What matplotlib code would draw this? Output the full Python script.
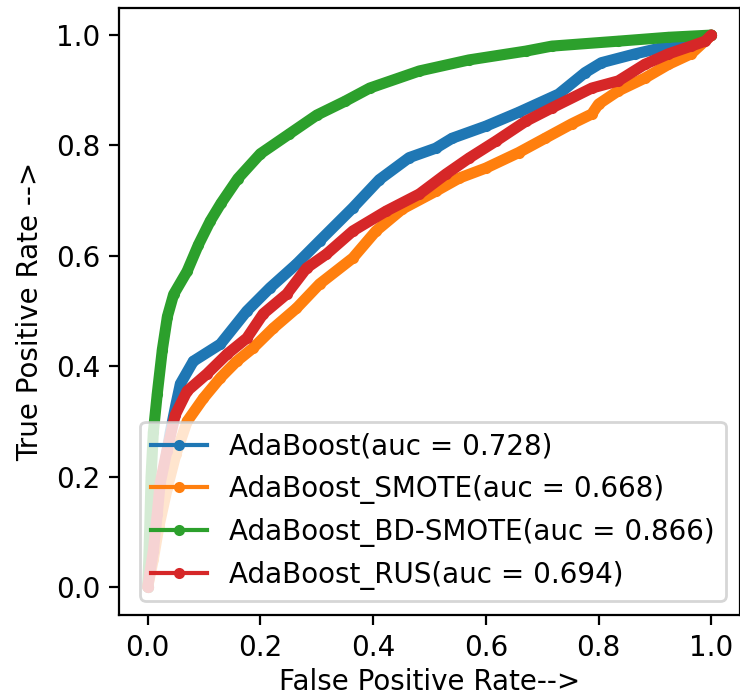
import matplotlib
matplotlib.use('Agg')
import matplotlib.pyplot as plt
from matplotlib.lines import Line2D

# ROC points
labels = ['AdaBoost', 'AdaBoost_SMOTE', 'AdaBoost_BD-SMOTE', 'AdaBoost_RUS']
aucs = [0.728, 0.668, 0.866, 0.694]
colors = ['#1f77b4', '#ff7f0e', '#2ca02c', '#d62728']

fpr_ada = [0.0, 0.01, 0.02, 0.03, 0.04, 0.05, 0.058, 0.081, 0.129, 0.176, 0.217,
           0.264, 0.305, 0.364, 0.411, 0.464, 0.511, 0.54, 0.6, 0.658, 0.729,
           0.776, 0.805, 0.865, 0.924, 1.0]
tpr_ada = [0.0, 0.08, 0.15, 0.22, 0.28, 0.33, 0.368, 0.409, 0.44, 0.5, 0.542,
           0.585, 0.627, 0.687, 0.738, 0.778, 0.795, 0.813, 0.835, 0.86, 0.893,
           0.932, 0.95, 0.966, 0.98, 1.0]

fpr_smote = [0.0, 0.01, 0.02, 0.035, 0.05, 0.07, 0.099, 0.129, 0.158, 0.187,
             0.223, 0.264, 0.305, 0.364, 0.405, 0.452, 0.511, 0.553, 0.6, 0.658,
             0.705, 0.752, 0.788, 0.8, 0.835, 0.882, 0.924, 0.964, 1.0]
tpr_smote = [0.0, 0.05, 0.11, 0.18, 0.24, 0.3, 0.342, 0.379, 0.409, 0.433,
             0.469, 0.505, 0.549, 0.596, 0.645, 0.685, 0.717, 0.741, 0.759, 0.787,
             0.813, 0.839, 0.857, 0.875, 0.899, 0.922, 0.947, 0.966, 1.0]

fpr_bd = [0.0, 0.002, 0.004, 0.006, 0.01, 0.017, 0.026, 0.035, 0.046, 0.07,
          0.09, 0.111, 0.13, 0.16, 0.2, 0.25, 0.3, 0.35, 0.394, 0.482, 0.57,
          0.671, 0.717, 0.835, 0.924, 1.0]
tpr_bd = [0.0, 0.05, 0.12, 0.2, 0.28, 0.35, 0.43, 0.49, 0.53, 0.572,
          0.62, 0.663, 0.695, 0.74, 0.785, 0.82, 0.855, 0.88, 0.904, 0.935, 0.955,
          0.971, 0.98, 0.989, 0.996, 1.0]

fpr_rus = [0.0, 0.01, 0.017, 0.022, 0.034, 0.049, 0.07, 0.105, 0.141, 0.176,
           0.205, 0.247, 0.282, 0.317, 0.364, 0.423, 0.482, 0.529, 0.57, 0.618,
           0.671, 0.717, 0.788, 0.835, 0.882, 0.924, 0.964, 0.989, 1.0]
tpr_rus = [0.0, 0.065, 0.132, 0.187, 0.246, 0.312, 0.355, 0.386, 0.422, 0.451,
           0.495, 0.531, 0.578, 0.603, 0.645, 0.681, 0.712, 0.748, 0.777, 0.808,
           0.844, 0.868, 0.904, 0.917, 0.947, 0.966, 0.98, 0.989, 1.0]

curves = [(fpr_ada, tpr_ada), (fpr_smote, tpr_smote), (fpr_bd, tpr_bd), (fpr_rus, tpr_rus)]

DPI = 200
fig = plt.figure(figsize=(740/DPI, 698/DPI), dpi=DPI)
ax = fig.add_axes([119.5/740, 83.5/698, 620/740, 607/698])

handles = []
for (x, y), lab, a, c in zip(curves, labels, aucs, colors):
    # thick stroke mimics the densely packed '.' markers of the original
    ax.plot(x, y, color=c, lw=4, marker='.', solid_capstyle='round',
            solid_joinstyle='round')
    handles.append(Line2D([], [], color=c, marker='.', lw=1.5,
                          label=f'{lab}(auc = {a})'))

ax.set_xlabel('False Positive Rate-->', labelpad=2)
ax.set_ylabel('True Positive Rate -->')
ax.legend(handles=handles, loc='lower right')

fig.savefig('out.png', dpi=DPI)
